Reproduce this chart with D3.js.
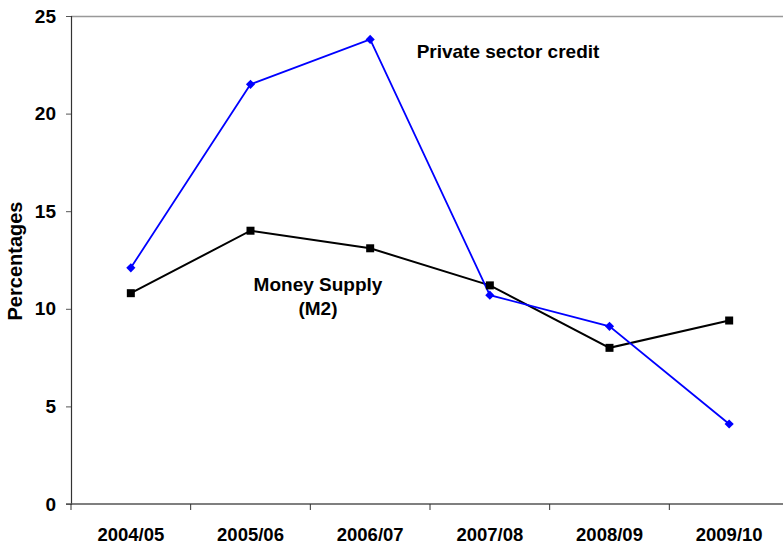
<!DOCTYPE html>
<html lang="en">
    <head>
        <meta charset="utf-8">
        <title>Credit and Money Supply</title>
        <script src="https://d3js.org/d3.v7.min.js"></script>
        <style type="text/css">
            body{ margin:0; background:#fff; }
            svg{ display:block; }
            text{ font-family: "Liberation Sans", Arial, sans-serif; font-weight:bold; fill:#000; }
        </style>
    </head>
    <body>
        <svg width="783" height="547"></svg>
        <script type="text/javascript">

        const w = 783;
        const h = 547;

        //DATA
        const years = ["2004/05", "2005/06", "2006/07", "2007/08", "2008/09", "2009/10"];
        const privateCredit = [12.1, 21.5, 23.8, 10.7, 9.1, 4.1];
        const moneySupply = [10.8, 14.0, 13.1, 11.2, 8.0, 9.4];
        const yTicks = [0, 5, 10, 15, 20, 25];

        const plotLeft = 71, plotTop = 16, plotBottom = 504, plotRight = 789;

        //SCALES
        const x = d3.scaleBand().domain(years).range([plotLeft, plotRight]);
        const y = d3.scaleLinear().domain([0, 25]).range([plotBottom, plotTop]);
        const cx = d => x(d) + x.bandwidth() / 2;

        const svg = d3.select("svg");

        //TOP BORDER
        svg.append("line")
           .attr("x1", plotLeft).attr("x2", w)
           .attr("y1", plotTop + 0.5).attr("y2", plotTop + 0.5)
           .attr("stroke", "#999").attr("stroke-width", 1.5);

        //Y AXIS
        const yAxis = svg.append("g")
           .attr("transform", `translate(${plotLeft},0)`)
           .call(d3.axisLeft(y).tickValues(yTicks).tickSize(5).tickPadding(10));
        yAxis.select(".domain").attr("stroke", "#333").attr("stroke-width", 1.2);
        yAxis.selectAll(".tick line").attr("stroke", "#555");
        yAxis.selectAll("text").style("font-size", "19px");

        //X AXIS
        const xAxis = svg.append("g")
           .attr("transform", `translate(0,${plotBottom})`)
           .call(d3.axisBottom(x).tickSize(0).tickPadding(24));
        xAxis.select(".domain").remove();
        xAxis.append("line")
           .attr("x1", 66).attr("x2", w)
           .attr("stroke", "#555").attr("stroke-width", 1.5);
        xAxis.selectAll(".sep")
           .data(years)
           .join("line")
           .attr("class", "sep")
           .attr("x1", d => x(d)).attr("x2", d => x(d))
           .attr("y1", 0).attr("y2", 6)
           .attr("stroke", "#333");
        xAxis.selectAll("text").style("font-size", "18.5px");

        //LINES
        const line = d3.line().x((d, i) => cx(years[i])).y(d => y(d));

        svg.append("path").datum(moneySupply)
           .attr("d", line).attr("fill", "none")
           .attr("stroke", "#000").attr("stroke-width", 2);
        svg.append("path").datum(privateCredit)
           .attr("d", line).attr("fill", "none")
           .attr("stroke", "#0000ff").attr("stroke-width", 1.8);

        svg.selectAll(".sq")
           .data(moneySupply)
           .join("rect")
           .attr("class", "sq")
           .attr("x", (d, i) => cx(years[i]) - 4)
           .attr("y", d => y(d) - 4)
           .attr("width", 8).attr("height", 8)
           .attr("fill", "#000");

        svg.selectAll(".dm")
           .data(privateCredit)
           .join("path")
           .attr("class", "dm")
           .attr("d", d3.symbol(d3.symbolSquare, 42))
           .attr("transform", (d, i) => `translate(${cx(years[i])},${y(d)}) rotate(45)`)
           .attr("fill", "#0000ff");

        //LABELS
        svg.append("text")
           .attr("transform", `translate(22,${261}) rotate(-90)`)
           .attr("text-anchor", "middle")
           .style("font-size", "20px")
           .text("Percentages");

        svg.append("text")
           .attr("x", 508).attr("y", 58)
           .attr("text-anchor", "middle")
           .style("font-size", "19px")
           .text("Private sector credit");

        svg.append("text")
           .attr("x", 318).attr("y", 291)
           .attr("text-anchor", "middle")
           .style("font-size", "19px")
           .text("Money Supply");
        svg.append("text")
           .attr("x", 318).attr("y", 315)
           .attr("text-anchor", "middle")
           .style("font-size", "19px")
           .text("(M2)");

        </script>
    </body>
</html>
